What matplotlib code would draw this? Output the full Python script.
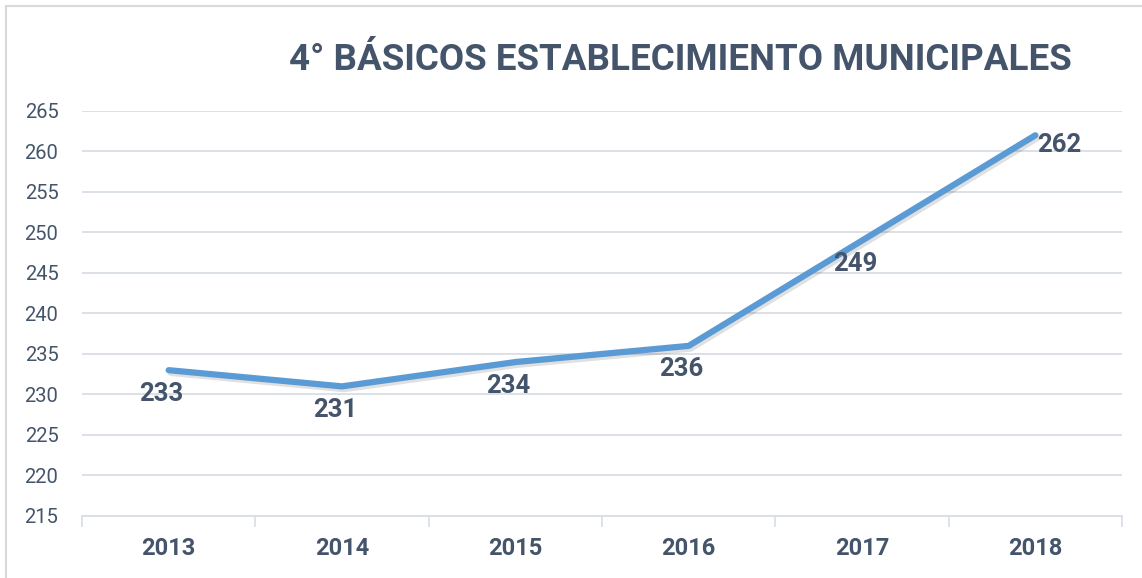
import matplotlib.pyplot as plt
import matplotlib.patheffects as pe
from matplotlib.patches import Rectangle

plt.rcParams["font.family"] = ["Roboto", "DejaVu Sans"]

# data
years = ["2013", "2014", "2015", "2016", "2017", "2018"]
scores = [233, 231, 234, 236, 249, 262]
title = "4° BÁSICOS ESTABLECIMIENTO MUNICIPALES"

text_color = "#44546A"
line_color = "#5B9BD5"
grid_color = "#D9DEE5"

fig = plt.figure(figsize=(11.42, 5.78), dpi=100)
ax = fig.add_axes([0.0718, 0.1073, 0.9107, 0.7007])

x = list(range(len(years)))
ax.plot(x, scores, color=line_color, linewidth=4.5, solid_capstyle="round",
        solid_joinstyle="round", zorder=3,
        path_effects=[pe.SimpleLineShadow(offset=(1.5, -2), shadow_color="black", alpha=0.12),
                      pe.Normal()])

# data labels (Excel style: below, last one to the right)
for i, v in enumerate(scores):
    if i == len(scores) - 1:
        ax.annotate(str(v), (i, v), xytext=(1, -7), textcoords="offset points",
                    ha="left", va="center", fontsize=18.5, fontweight="bold", color=text_color)
    else:
        ax.annotate(str(v), (i, v), xytext=(-5, -17), textcoords="offset points",
                    ha="center", va="center", fontsize=18.5, fontweight="bold", color=text_color)

ax.set_xlim(-0.5, len(years) - 0.5)
ax.set_ylim(215, 265)
ax.set_yticks(range(215, 266, 5))
ax.set_xticks(x)
ax.set_xticklabels(years, fontsize=17, fontweight="bold", color=text_color)
ax.tick_params(axis="y", labelsize=14.5, labelcolor=text_color, length=0, pad=17)
ax.tick_params(axis="x", which="major", length=0, pad=15)
ax.set_xticks([i - 0.5 for i in range(len(years) + 1)], minor=True)
ax.tick_params(axis="x", which="minor", length=8, color=grid_color, width=1.2)

ax.grid(axis="y", color=grid_color, linewidth=1.3)
ax.set_axisbelow(True)
for side in ["top", "right", "left"]:
    ax.spines[side].set_visible(False)
ax.spines["bottom"].set_color(grid_color)
ax.spines["bottom"].set_linewidth(1.3)

fig.text(0.5955, 0.896, title, ha="center", va="center", fontsize=26.5,
         fontweight="bold", color=text_color)

fig.patches.append(Rectangle((0.005, -0.01), 1.0, 1.0, transform=fig.transFigure,
                             fill=False, edgecolor="#D9D9D9", linewidth=1.5))

fig.savefig("out.png", dpi=100)
